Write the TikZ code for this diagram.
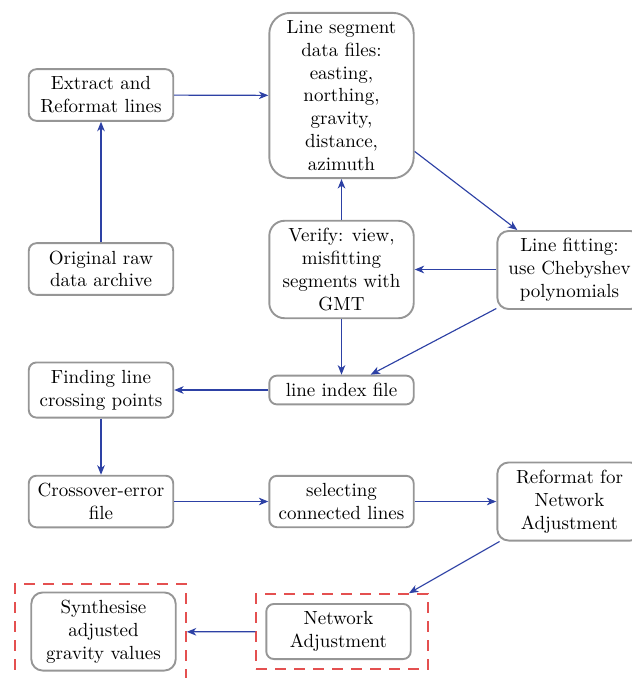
\documentclass[tikz,border=0pt]{standalone}
\usetikzlibrary{arrows.meta}
\definecolor{boxgray}{RGB}{150,150,150}
\definecolor{arrowblue}{RGB}{45,65,165}
\definecolor{dashred}{RGB}{228,80,80}
\tikzset{
    procbox/.style={draw=boxgray, line width=1pt, rounded corners=4pt, text width=68pt,
        align=flush center, inner xsep=4pt, inner ysep=4pt},
    redbox/.style={draw=dashred, line width=0.8pt, dash pattern=on 6pt off 4pt},
    flow/.style={draw=arrowblue, line width=0.6pt, -{Stealth[length=5pt,width=4pt,inset=1.5pt]}}
}
\begin{document}
\begin{tikzpicture}[x=0.5263pt, y=-0.5263pt]
            \useasboundingbox (0,0) rectangle (632,678);
            \node[procbox] (extract) at (101,95) {Extract and Reformat lines};
            \node[procbox, rounded corners=11pt] (lseg) at (341.5,95.5) {Line segment data files: easting, northing, gravity, distance, azimuth};
            \node[procbox] (orig) at (101,269) {Original raw data archive};
            \node[procbox, rounded corners=8pt] (verify) at (341.5,269.5) {Verify: view, misfitting segments with GMT};
            \node[procbox, rounded corners=6pt] (fitting) at (569.5,270) {Line fitting: use Chebyshev polynomials};
            \node[procbox] (lindex) at (341.5,390) {line index file};
            \node[procbox] (cross) at (101,390) {Finding line crossing points};
            \node[procbox] (coerr) at (101,501.5) {Crossover-error file};
            \node[procbox] (select) at (341.5,501.5) {selecting connected lines};
            \node[procbox, rounded corners=6pt] (reform) at (569.5,501.5) {Reformat for Network Adjustment};
            \node[procbox] (netadj) at (338.5,631.5) {Network Adjustment};
            \node[procbox, rounded corners=6pt] (synth) at (103.5,631.5) {Synthesise adjusted gravity values};
            % dashed frames
            \node[redbox, minimum width=90.5pt, minimum height=39.5pt] (netframe) at (342,631.5) {};
            \node[redbox, minimum width=90pt, minimum height=50.5pt] (synthframe) at (100.5,632) {};
            % connectors
            \draw[flow] (orig) -- (extract);
            \draw[flow] (extract) -- (lseg);
            \draw[flow] (lseg) -- (fitting);
            \draw[flow] (fitting.west |- verify) -- (verify);
            \draw[flow] (verify) -- (lseg);
            \draw[flow] (verify) -- (lindex);
            \draw[flow] (fitting) -- (lindex);
            \draw[flow] (lindex) -- (cross);
            \draw[flow] (cross) -- (coerr);
            \draw[flow] (coerr) -- (select);
            \draw[flow] (select) -- (reform);
            \draw[flow] (reform) -- (netframe);
            \draw[flow] (netframe) -- (synthframe);
        \end{tikzpicture}
\end{document}
